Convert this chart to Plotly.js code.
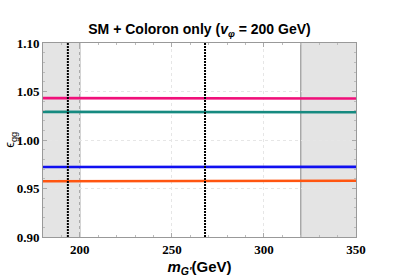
<!DOCTYPE html>
<html><head><meta charset="utf-8">
<script src="https://cdn.plot.ly/plotly-3.0.1.min.js"></script>
<style>html,body{margin:0;padding:0;background:#fff}#c{width:399px;height:279px}</style>
</head><body><div id="c"></div>
<script>
const mass = [180, 200, 220, 240, 260, 280, 300, 320, 340, 350];
const epsPink = [1.0432, 1.0431, 1.0430, 1.0430, 1.0429, 1.0429, 1.0428, 1.0428, 1.0428, 1.0428];
const epsTeal = [1.0290, 1.0290, 1.0289, 1.0289, 1.0288, 1.0288, 1.0287, 1.0287, 1.0286, 1.0286];
const epsBlue = [0.9722, 0.9722, 0.9722, 0.9722, 0.9722, 0.9722, 0.9722, 0.9722, 0.9723, 0.9723];
const epsOrange = [0.9575, 0.9576, 0.9577, 0.9578, 0.9578, 0.9579, 0.9579, 0.9580, 0.9580, 0.9580];
const excludedLow = [180, 200];
const excludedHigh = [320, 350];
const markLines = [193.5, 268];
const xTicks = [200, 250, 300, 350];
const yTicks = [0.90, 0.95, 1.00, 1.05, 1.10];

const seriesList = [
  {y: epsPink, color: '#f0107a'},
  {y: epsTeal, color: '#168a80'},
  {y: epsBlue, color: '#1010f0'},
  {y: epsOrange, color: '#ff5510'}
];
const traces = seriesList.map(s => ({x: mass, y: s.y, mode: 'lines', line: {color: s.color, width: 2.6}, showlegend: false, hoverinfo: 'skip'}));

const shapes = [];
[excludedLow, excludedHigh].forEach(r => {
  shapes.push({type: 'rect', xref: 'x', yref: 'paper', x0: r[0], x1: r[1], y0: 0, y1: 1, fillcolor: '#e4e4e4', line: {width: 0}, layer: 'below'});
});
shapes.push({type: 'line', xref: 'x', yref: 'paper', x0: excludedLow[1], x1: excludedLow[1], y0: 0, y1: 1, line: {color: '#999', width: 1.2}, layer: 'below'});
shapes.push({type: 'line', xref: 'x', yref: 'paper', x0: excludedHigh[0], x1: excludedHigh[0], y0: 0, y1: 1, line: {color: '#999', width: 1.2}, layer: 'below'});
markLines.forEach(v => {
  shapes.push({type: 'line', xref: 'x', yref: 'paper', x0: v, x1: v, y0: 0, y1: 1, line: {color: '#000', width: 2, dash: '2px,1px'}, layer: 'above'});
});

const tickFont = {family: 'Liberation Serif', size: 13, color: '#000', weight: 700};
const layout = {
  width: 399, height: 279,
  margin: {l: 43, r: 43, t: 43, b: 42},
  paper_bgcolor: '#fff', plot_bgcolor: '#fff',
  title: {text: '<b>SM + Coloron only (<i>v<sub>φ</sub></i> = 200 GeV)</b>', font: {family: 'Liberation Sans', size: 14, color: '#000'}, x: 0.5, xanchor: 'center', y: 0.895, yanchor: 'middle'},
  xaxis: {range: [180, 350], tickvals: xTicks, ticktext: xTicks.map(String), ticks: 'inside', ticklen: 4, tickcolor: '#aaa', mirror: 'allticks', showline: true, linecolor: '#999', linewidth: 1,
    showgrid: true, gridcolor: '#e6e6e6', griddash: 'dot', gridwidth: 1, zeroline: false, tickfont: tickFont, ticklabelstandoff: 0,
    minor: {dtick: 10, ticks: 'inside', ticklen: 2, tickcolor: '#bbb', showgrid: false},
    title: {text: '<b><i>m</i><sub><i>G\'</i></sub>(GeV)</b>', font: {family: 'Liberation Sans', size: 15, color: '#000'}, standoff: 5}},
  yaxis: {range: [0.90, 1.10], tickvals: yTicks, ticktext: yTicks.map(v => v.toFixed(2)), ticks: 'inside', ticklen: 4, tickcolor: '#aaa', mirror: 'allticks', showline: true, linecolor: '#999', linewidth: 1,
    showgrid: true, gridcolor: '#e6e6e6', griddash: 'dot', gridwidth: 1, zeroline: false, tickfont: tickFont, ticklabelstandoff: 0,
    minor: {dtick: 0.01, ticks: 'inside', ticklen: 2, tickcolor: '#bbb', showgrid: false}},
  annotations: [{text: 'ϵ<sub>gg</sub>', xref: 'paper', yref: 'paper', x: -0.106, y: 0.5, xanchor: 'center', yanchor: 'middle', textangle: -90, showarrow: false, font: {family: 'Liberation Sans', size: 13, color: '#000'}}],
  shapes: shapes
};
Plotly.newPlot('c', traces, layout, {staticPlot: true, displayModeBar: false});
</script></body></html>
